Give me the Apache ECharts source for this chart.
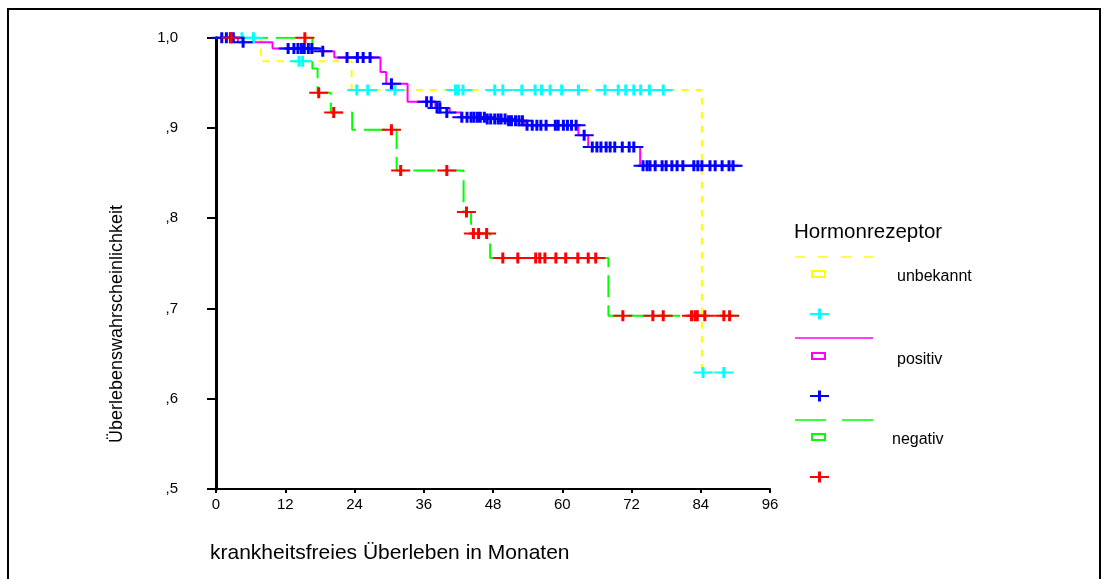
<!DOCTYPE html>
<html>
<head>
<meta charset="utf-8">
<script src="https://cdn.jsdelivr.net/npm/echarts@6/dist/echarts.min.js"></script>
<style>
  html, body { margin: 0; padding: 0; background: #fff; }
  #chart { width: 1104px; height: 579px; }
</style>
</head>
<body>
<div id="chart"></div>
<script>
// Kaplan-Meier: krankheitsfreies Überleben nach Hormonrezeptor-Status
// Step curves: [Monat, Überlebenswahrscheinlichkeit]
const unbekanntSteps = [[0, 1.0], [7.8, 0.974], [23.5, 0.942], [84.2, 0.629], [88.0, 0.629]];
const positivSteps = [[0, 1.0], [3.8, 0.995], [9.8, 0.988], [18.0, 0.985], [20.5, 0.978], [28.5, 0.962],
  [29.5, 0.949], [33.2, 0.929], [38.0, 0.922], [40.5, 0.917], [42.5, 0.912], [47.0, 0.910], [50.5, 0.908],
  [53.5, 0.903], [62.8, 0.892], [64.5, 0.879], [73.5, 0.858], [91.1, 0.858]];
const negativSteps = [[0, 1.0], [16.7, 0.966], [17.6, 0.939], [19.9, 0.917], [23.6, 0.898], [31.3, 0.853],
  [42.9, 0.807], [44.2, 0.783], [47.5, 0.756], [68.0, 0.692], [90.6, 0.692]];

// Censored cases: [Monat, Überlebenswahrscheinlichkeit]
const unbekanntCensored = [[4.5, 1.0], [6.5, 1.0], [14.4, 0.974], [15.0, 0.974],
  [24.4, 0.942], [26.3, 0.942], [31.0, 0.942], [41.5, 0.942], [42.0, 0.942], [42.8, 0.942], [48.3, 0.942],
  [49.7, 0.942], [53.0, 0.942], [55.3, 0.942], [56.4, 0.942], [57.9, 0.942], [59.9, 0.942], [62.8, 0.942],
  [67.4, 0.942], [69.7, 0.942], [71.0, 0.942], [72.4, 0.942], [73.6, 0.942], [75.1, 0.942], [77.5, 0.942],
  [84.4, 0.629], [88.0, 0.629]];
const positivCensored = [[1.0, 1.0], [1.8, 1.0], [2.5, 1.0], [3.0, 1.0], [4.7, 0.995],
  [12.5, 0.988], [13.5, 0.988], [14.2, 0.988], [14.8, 0.988], [15.3, 0.988], [16.0, 0.988], [16.6, 0.988],
  [18.5, 0.985], [22.7, 0.978], [24.5, 0.978], [25.5, 0.978], [26.7, 0.978], [30.4, 0.949],
  [36.5, 0.929], [37.3, 0.929], [38.3, 0.922], [38.8, 0.922], [40.0, 0.917],
  [42.6, 0.912], [43.5, 0.912], [44.2, 0.912], [44.7, 0.912], [45.3, 0.912], [45.8, 0.912], [46.5, 0.912],
  [47.0, 0.910], [47.6, 0.910], [48.3, 0.910], [48.9, 0.910], [49.4, 0.910], [50.1, 0.910],
  [50.7, 0.908], [51.2, 0.908], [51.9, 0.908], [52.5, 0.908], [53.1, 0.908],
  [53.9, 0.903], [54.8, 0.903], [55.6, 0.903], [56.3, 0.903], [57.2, 0.903], [58.8, 0.903], [59.3, 0.903],
  [60.2, 0.903], [60.9, 0.903], [61.6, 0.903], [62.4, 0.903], [63.8, 0.892],
  [65.2, 0.879], [66.0, 0.879], [66.7, 0.879], [67.6, 0.879], [68.3, 0.879], [69.1, 0.879], [70.4, 0.879],
  [71.6, 0.879], [72.4, 0.879],
  [74.0, 0.858], [74.7, 0.858], [75.2, 0.858], [76.1, 0.858], [77.3, 0.858], [78.0, 0.858], [79.0, 0.858],
  [79.9, 0.858], [80.9, 0.858], [82.8, 0.858], [83.5, 0.858], [84.2, 0.858], [85.6, 0.858], [86.5, 0.858],
  [87.7, 0.858], [88.9, 0.858], [89.6, 0.858]];
const negativCensored = [[2.6, 1.0], [15.4, 1.0], [17.8, 0.939], [20.4, 0.917], [30.4, 0.898],
  [32.0, 0.853], [40.0, 0.853], [43.4, 0.807], [44.6, 0.783], [45.5, 0.783], [46.9, 0.783],
  [49.7, 0.756], [52.3, 0.756], [55.4, 0.756], [56.1, 0.756], [57.0, 0.756], [58.9, 0.756], [60.6, 0.756],
  [62.7, 0.756], [64.5, 0.756], [65.8, 0.756],
  [70.5, 0.692], [75.7, 0.692], [77.5, 0.692], [82.4, 0.692], [83.0, 0.692], [83.4, 0.692], [84.7, 0.692],
  [88.0, 0.692], [89.0, 0.692]];

const xTicks = [0, 12, 24, 36, 48, 60, 72, 84, 96];
const yLabels = { '0.5': ',5', '0.6': ',6', '0.7': ',7', '0.8': ',8', '0.9': ',9', '1': '1,0' };
const groups = ['unbekannt', 'positiv', 'negativ'];

const FONT = '"Liberation Sans", Arial, sans-serif';
const COL = {
  yellow: '#ffff00', cyan: '#00ffff', magenta: '#ff00ff',
  blue: '#0000ff', green: '#00ff00', red: '#ff0000'
};
// plus-shaped censor marker: thin horizontal bar, thicker vertical bar
const PLUS = 'path://M0,4.5h19v2h-19z M8,0h3v11h-3z';

function stepSeries(name, data, color, dash) {
  return {
    name: name, type: 'line', data: data, step: 'end', symbol: 'none',
    lineStyle: { color: color, width: 2, type: dash },
    silent: true, z: 2
  };
}
function censorSeries(name, data, color) {
  return {
    name: name, type: 'scatter', data: data, symbol: PLUS, symbolSize: [19, 11],
    itemStyle: { color: color, opacity: 1 }, silent: true, z: 3
  };
}

function legendPlus(cx, cy, color) {
  return {
    type: 'group', x: cx, y: cy, children: [
      { type: 'rect', shape: { x: -9.5, y: -1, width: 19, height: 2 }, style: { fill: color } },
      { type: 'rect', shape: { x: -1.5, y: -5.5, width: 3, height: 11 }, style: { fill: color } }
    ]
  };
}
function legendRect(x, y, color) {
  return { type: 'rect', shape: { x: x, y: y, width: 13, height: 6 },
    style: { fill: 'none', stroke: color, lineWidth: 2 } };
}
function legendLine(y, color, dash) {
  return { type: 'line', shape: { x1: 795, y1: y, x2: 873, y2: y },
    style: { stroke: color, lineWidth: 1.5, lineDash: dash } };
}
function legendText(x, y, text, size) {
  return { type: 'text', x: x, y: y,
    style: { text: text, fill: '#000', font: size + 'px ' + FONT, textVerticalAlign: 'middle' } };
}

const chart = echarts.init(document.getElementById('chart'), null, { renderer: 'canvas' });
chart.setOption({
  animation: false,
  backgroundColor: '#fff',
  grid: { left: 216, top: 37.7, right: 334, bottom: 90, containLabel: false },
  xAxis: {
    type: 'value', min: xTicks[0], max: xTicks[xTicks.length - 1], interval: 12,
    axisLine: { show: true, onZero: false, lineStyle: { color: '#000', width: 2 } },
    axisTick: { show: true, length: 4, lineStyle: { color: '#000', width: 2 } },
    axisLabel: { color: '#000', fontFamily: FONT, fontSize: 15, margin: 8 },
    splitLine: { show: false }
  },
  yAxis: {
    type: 'value', min: 0.5, max: 1.0, interval: 0.1,
    axisLine: { show: true, lineStyle: { color: '#000', width: 3 } },
    axisTick: { show: true, length: 9, lineStyle: { color: '#000', width: 2 } },
    axisLabel: {
      color: '#000', fontFamily: FONT, fontSize: 15, margin: 38,
      formatter: function (v) { return yLabels[String(Math.round(v * 10) / 10)]; }
    },
    splitLine: { show: false }
  },
  series: [
    stepSeries(groups[0], unbekanntSteps, COL.yellow, [7, 7]),
    censorSeries(groups[0] + ' zensiert', unbekanntCensored, COL.cyan),
    stepSeries(groups[1], positivSteps, COL.magenta, 'solid'),
    censorSeries(groups[1] + ' zensiert', positivCensored, COL.blue),
    stepSeries(groups[2], negativSteps, COL.green, [22, 8]),
    censorSeries(groups[2] + ' zensiert', negativCensored, COL.red)
  ],
  graphic: [
    // outer frame
    { type: 'rect', shape: { x: 8, y: 9, width: 1092, height: 620 },
      style: { fill: 'none', stroke: '#000', lineWidth: 2 }, z: -10 },
    // axis titles
    { type: 'text', x: 117, y: 324, rotation: Math.PI / 2,
      style: { text: 'Überlebenswahrscheinlichkeit', fill: '#000', font: '18px ' + FONT,
        textAlign: 'center', textVerticalAlign: 'middle' } },
    { type: 'text', x: 210, y: 553,
      style: { text: 'krankheitsfreies Überleben in Monaten', fill: '#000', font: '21px ' + FONT,
        textAlign: 'left', textVerticalAlign: 'middle' } },
    // legend
    legendText(794, 232, 'Hormonrezeptor', 20.5),
    legendLine(257, COL.yellow, [10, 13]),
    legendRect(812, 271, COL.yellow),
    legendText(897, 277, groups[0], 16),
    legendPlus(819.5, 314, COL.cyan),
    legendLine(338, COL.magenta, null),
    legendRect(812, 353, COL.magenta),
    legendText(897, 360, groups[1], 16),
    legendPlus(819.5, 396, COL.blue),
    legendLine(420, COL.green, [31, 16]),
    legendRect(812, 434, COL.green),
    legendText(892, 440, groups[2], 16),
    legendPlus(819.5, 477, COL.red)
  ]
});
</script>
</body>
</html>
